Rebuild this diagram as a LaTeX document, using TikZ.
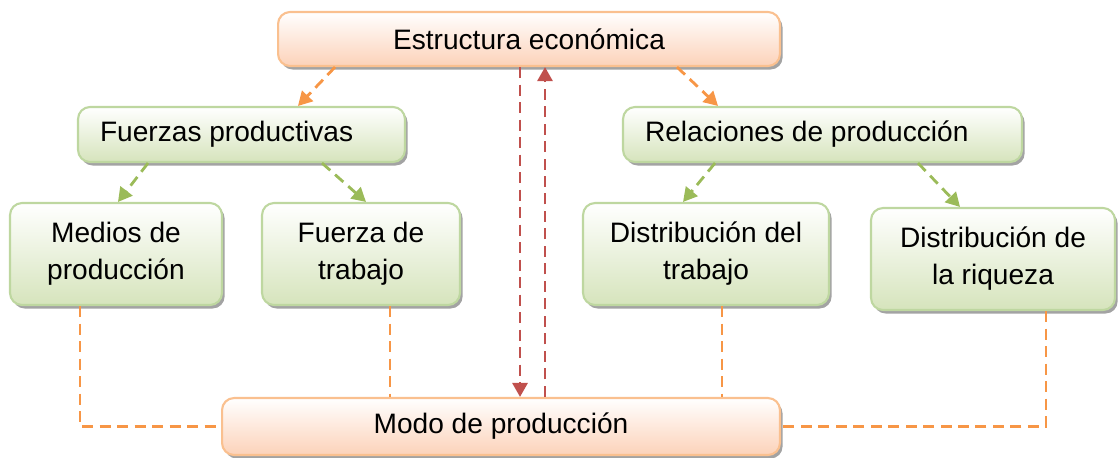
\documentclass[tikz,border=0pt]{standalone}
\usepackage{fontspec}
\setmainfont{Liberation Sans}
\usetikzlibrary{arrows.meta,shadows}
\definecolor{naranja}{RGB}{247,150,70}
\definecolor{naranjaborde}{RGB}{250,192,143}
\definecolor{naranjafondo}{RGB}{252,210,185}
\definecolor{verde}{RGB}{155,187,89}
\definecolor{verdeborde}{RGB}{190,215,160}
\definecolor{verdefondo}{RGB}{214,228,188}
\definecolor{rojo}{RGB}{192,80,77}
\tikzset{
  caja/.style={rounded corners=0.24cm,line width=1.2pt,align=center,inner sep=0pt,
    font=\fontsize{16}{21}\selectfont,
    drop shadow={shadow xshift=1.5pt,shadow yshift=-2pt,fill=black!45,opacity=0.8}},
  cajaverde/.style={caja,draw=verdeborde,top color=white,bottom color=verdefondo},
  cajanaranja/.style={caja,draw=naranjaborde,top color=white,bottom color=naranjafondo},
  linea/.style={line width=1.6pt,dash pattern=on 0.22cm off 0.13cm},
  flecha/.style={linea,-{Triangle[length=0.28cm,width=0.3cm]}}
}
\begin{document}
\begin{tikzpicture}[x=0.02cm,y=-0.02cm]
    \useasboundingbox (0,0) rectangle (1118,457);

    \node[cajanaranja,minimum width=10.04cm,minimum height=1.08cm](estructura) at (529,39) {Estructura económica};
    \node[cajaverde,minimum width=6.54cm,minimum height=1.1cm,text width=5.66cm,align=flush left,inner xsep=0.44cm]
        (fuerzas) at (241.5,134.5) {Fuerzas productivas};
    \node[cajaverde,minimum width=7.98cm,minimum height=1.1cm,text width=7.1cm,align=flush left,inner xsep=0.44cm]
        (relaciones) at (822.5,134.5) {Relaciones de producción};
    \node[cajaverde,minimum width=4.24cm,minimum height=2.04cm](medios) at (116,254) {Medios de\\producción};
    \node[cajaverde,minimum width=3.96cm,minimum height=2.04cm](fuerza) at (361,254) {Fuerza de\\trabajo};
    \node[cajaverde,minimum width=4.92cm,minimum height=2.04cm](distrabajo) at (706,254) {Distribución del\\trabajo};
    \node[cajaverde,minimum width=4.88cm,minimum height=2.04cm](disriqueza) at (993,259) {Distribución de\\la riqueza};
    \node[cajanaranja,minimum width=11.16cm,minimum height=1.14cm](modo) at (501,426.5) {Modo de producción};

    % estructura -> fuerzas y relaciones
    \draw[flecha,naranja] ([xshift=-3.88cm]estructura.south) -- ([xshift=1.13cm]fuerzas.north);
    \draw[flecha,naranja] ([xshift=2.96cm]estructura.south) -- ([xshift=-2.09cm]relaciones.north);
    % fuerzas y relaciones -> cajas de abajo
    \draw[flecha,verde] ([xshift=-1.87cm]fuerzas.south) -- ([xshift=0.04cm]medios.north);
    \draw[flecha,verde] ([xshift=1.61cm]fuerzas.south) -- ([xshift=0.1cm]fuerza.north);
    \draw[flecha,verde] ([xshift=-2.15cm]relaciones.south) -- ([xshift=-0.46cm]distrabajo.north);
    \draw[flecha,verde] ([xshift=1.91cm]relaciones.south) -- ([xshift=-0.66cm]disriqueza.north);
    % estructura <-> modo
    \draw[flecha,rojo] ([xshift=-0.18cm]estructura.south) -- ([xshift=-0.18cm]estructura.south |- modo.north);
    \draw[flecha,rojo] ([xshift=0.32cm]estructura.south |- modo.north) -- ([xshift=0.32cm]estructura.south);
    % cajas de abajo -- modo
    \draw[linea,naranja] ([xshift=-0.72cm]medios.south) |- (modo.west);
    \draw[linea,naranja] ([xshift=0.58cm]fuerza.south) -- ([xshift=0.58cm]fuerza.south |- modo.north);
    \draw[linea,naranja] ([xshift=0.32cm]distrabajo.south) -- ([xshift=0.32cm]distrabajo.south |- modo.north);
    \draw[linea,naranja] ([xshift=1.06cm]disriqueza.south) |- (modo.east);

\end{tikzpicture}
\end{document}
